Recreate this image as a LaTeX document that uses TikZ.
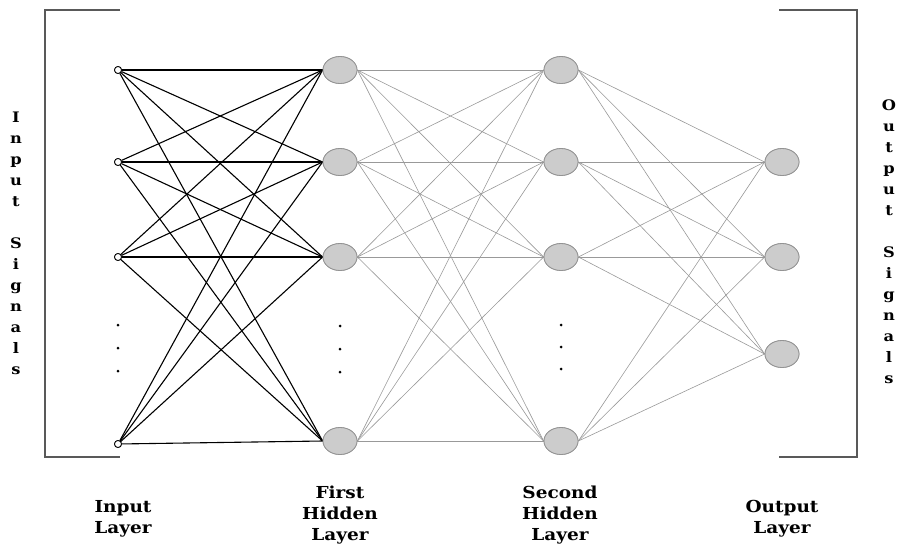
\documentclass[tikz,border=0pt]{standalone}
\usepackage{fontspec}
\setmainfont{DejaVu Serif}[FakeStretch=1.12]
\usetikzlibrary{shapes.geometric}
\begin{document}
\begin{tikzpicture}[x=1pt,y=-1pt,
  inp/.style={circle,draw=black,fill=white,minimum size=7pt,inner sep=0pt,line width=0.8pt},
  hid/.style={ellipse,draw=gray!85,fill=gray!40,minimum width=34pt,minimum height=27pt,inner sep=0pt,line width=0.8pt},
  wblack/.style={draw=black,line width=1.1pt},
  wgray/.style={draw=gray!80,line width=0.6pt},
  brk/.style={draw=gray!70!black,line width=1.2pt},
  lbl/.style={font=\fontsize{16.5}{21}\selectfont\bfseries,align=center,inner sep=0pt},
  vlbl/.style={font=\fontsize{14.5}{21}\selectfont\bfseries,align=center,inner sep=0pt},
  dotm/.style={circle,fill=black,inner sep=0pt,minimum size=3pt}]
\useasboundingbox (0,0) rectangle (905,546);

% brackets
\draw[brk] (120,10) -- (45,10) -- (45,457) -- (120,457);
\draw[brk] (779,10) -- (857,10) -- (857,457) -- (779,457);

% nodes
\node[inp] (i1) at (118,70) {};
\node[inp] (i2) at (118,162) {};
\node[inp] (i3) at (118,257) {};
\node[inp] (i4) at (118,444) {};
\foreach \n/\y in {1/70,2/162,3/257,4/441}{
  \node[hid] (h\n) at (340,\y) {};
  \node[hid] (g\n) at (561,\y) {};
}
\foreach \n/\y in {1/162,2/257,3/354}{
  \node[hid] (o\n) at (782,\y) {};
}

% connections
\foreach \a in {1,...,4}{
  \foreach \b in {1,...,4}{
    \draw[wblack] (i\a) -- (h\b.west);
    \draw[wgray] (h\a.east) -- (g\b.west);
  }
  \foreach \b in {1,2,3}{
    \draw[wgray] (g\a.east) -- (o\b.west);
  }
}
% redraw nodes on top
\foreach \n/\y in {1/70,2/162,3/257,4/441}{
  \node[hid] at (340,\y) {};
  \node[hid] at (561,\y) {};
}
\foreach \n/\y in {1/162,2/257,3/354}{
  \node[hid] at (782,\y) {};
}
\node[inp] at (118,70) {};
\node[inp] at (118,162) {};
\node[inp] at (118,257) {};
\node[inp] at (118,444) {};

% ellipsis dots
\foreach \x/\ya/\yb/\yc [count=\k] in {118/325/348/371, 340/326/349/372, 561/325/347/369}{
  \node[dotm] (da\k) at (\x,\ya) {};
  \node[dotm] (db\k) at (\x,\yb) {};
  \node[dotm] (dc\k) at (\x,\yc) {};
}

% side labels
\node[vlbl] (insig) at (16,243) {I\\n\\p\\u\\t\\\mbox{}\\S\\i\\g\\n\\a\\l\\s};
\node[vlbl] (outsig) at (889,242) {O\\u\\t\\p\\u\\t\\\mbox{}\\S\\i\\g\\n\\a\\l\\s};

% bottom labels
\node[lbl] (linp) at (123,519) {Input\\Layer};
\node[lbl] (lh1) at (340,515) {First\\Hidden\\Layer};
\node[lbl] (lh2) at (560,515) {Second\\Hidden\\Layer};
\node[lbl] (lout) at (782,519) {Output\\Layer};
\end{tikzpicture}
\end{document}
